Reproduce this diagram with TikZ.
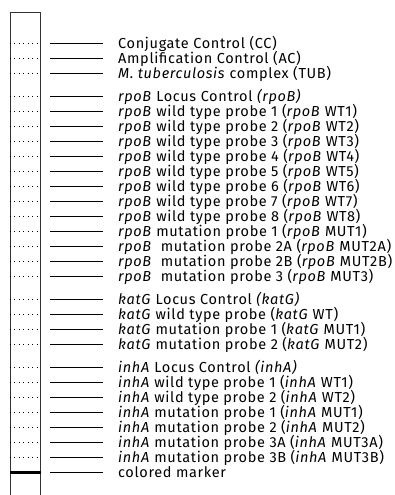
\documentclass[tikz,border=0pt]{standalone}
\usepackage{fontspec}
\setmainfont[LetterSpace=4.5]{Fira Sans}
\usetikzlibrary{positioning}
\newcommand{\gn}[1]{\textit{#1}}
\tikzset{
  strip/.style  = {line width=0.9pt, draw=black!80},
  dots/.style   = {line width=1.4pt, dash pattern=on 1.4pt off 3.1pt},
  band/.style   = {line width=1.3pt},
  marker/.style = {line width=2.6pt},
  lbl/.style    = {anchor=base west, inner sep=0pt, font=\fontsize{14.5}{14.5}\selectfont},
}

\begin{document}
\begin{tikzpicture}[x=1pt, y=-1pt]
  \useasboundingbox (0,0) rectangle (394,495);
  % test strip
  \draw[strip] (10,495) -- (10,12) -- (40.5,12) -- (40.5,495);
  % probe zones
  \foreach \y/\txt [count=\n] in {
      43.7/{Conjugate Control (CC)},
      58.7/{Amplification Control (AC)},
      73.7/{\gn{M. tuberculosis} complex (TUB)},
      96.7/{\gn{rpoB} Locus Control \gn{(rpoB)}},
      111.7/{\gn{rpoB} wild type probe 1 (\gn{rpoB} WT1)},
      126.7/{\gn{rpoB} wild type probe 2 (\gn{rpoB} WT2)},
      141.7/{\gn{rpoB} wild type probe 3 (\gn{rpoB} WT3)},
      156.7/{\gn{rpoB} wild type probe 4 (\gn{rpoB} WT4)},
      171.7/{\gn{rpoB} wild type probe 5 (\gn{rpoB} WT5)},
      186.7/{\gn{rpoB} wild type probe 6 (\gn{rpoB} WT6)},
      201.7/{\gn{rpoB} wild type probe 7 (\gn{rpoB} WT7)},
      216.7/{\gn{rpoB} wild type probe 8 (\gn{rpoB} WT8)},
      231.7/{\gn{rpoB} mutation probe 1 (\gn{rpoB} MUT1)},
      246.7/{\gn{rpoB}\ \ mutation probe 2A (\gn{rpoB} MUT2A)},
      261.7/{\gn{rpoB}\ \ mutation probe 2B (\gn{rpoB} MUT2B)},
      276.7/{\gn{rpoB}\ \ mutation probe 3 (\gn{rpoB} MUT3)},
      299.7/{\gn{katG} Locus Control \gn{(katG)}},
      314.7/{\gn{katG} wild type probe (\gn{katG} WT)},
      329.7/{\gn{katG} mutation probe 1 (\gn{katG} MUT1)},
      344.7/{\gn{katG} mutation probe 2 (\gn{katG} MUT2)},
      367.7/{\gn{inhA} Locus Control \gn{(inhA)}},
      382.7/{\gn{inhA} wild type probe 1 (\gn{inhA} WT1)},
      397.7/{\gn{inhA} wild type probe 2 (\gn{inhA} WT2)},
      412.7/{\gn{inhA} mutation probe 1 (\gn{inhA} MUT1)},
      427.7/{\gn{inhA} mutation probe 2 (\gn{inhA} MUT2)},
      442.7/{\gn{inhA} mutation probe 3A (\gn{inhA} MUT3A)},
      457.7/{\gn{inhA} mutation probe 3B (\gn{inhA} MUT3B)}} {
    \coordinate (z\n) at (9.5,\y);
    \coordinate (b\n) at (50,\y);
    \coordinate (e\n) at (103,\y);
    \draw[dots] (z\n) -- ++(28,0);
    \draw[band] (b\n) -- (e\n);
    \node[lbl] (t\n) at (118,\y+4.8) {\txt};
  }
  % colored marker
  \coordinate (mk) at (9.5,472.7);
  \coordinate (mb) at (50,472.7);
  \coordinate (me) at (103,472.7);
  \draw[marker] (mk) -- ++(31,0);
  \draw[band] (mb) -- (me);
  \node[lbl] (tm) at (118,472.7+4.8) {colored marker};
\end{tikzpicture}
\end{document}
